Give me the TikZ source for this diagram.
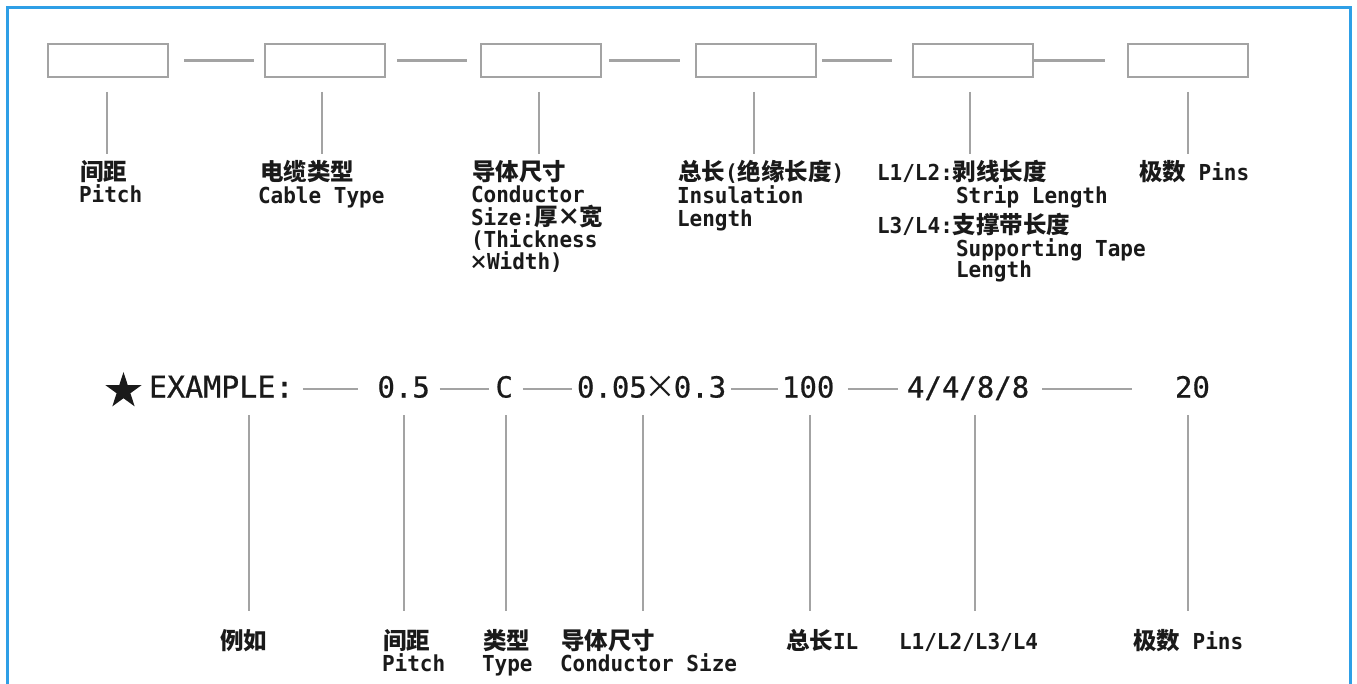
\documentclass[tikz,border=0pt]{standalone}
\usepackage{fontspec}
\usetikzlibrary{shapes.geometric}
\newfontfamily\monofont[FakeStretch=0.955]{DejaVu Sans Mono}
\newfontfamily\exmono[FakeBold=0.6]{DejaVu Sans Mono}
\newfontfamily\zhfont{Noto Sans CJK SC}
\definecolor{frameblue}{HTML}{2E9FE6}
\definecolor{linegray}{HTML}{A3A3A3}
\definecolor{ink}{HTML}{1A1A1A}
\newcommand\lblfont{\monofont\bfseries\fontsize{22}{23}\selectfont}
\newcommand\zh[1]{{\zhfont\bfseries\fontsize{23.5}{23}\selectfont #1}}
\newcommand\exfont{\exmono\fontsize{29}{30}\selectfont}
\newcommand\exbig{\exmono\fontsize{30}{30}\selectfont}
\begin{document}
\begin{tikzpicture}[x=1pt,y=-1pt,
  lbl/.style={anchor=base west,inner sep=0pt,outer sep=0pt,text=ink,font=\lblfont},
  exnum/.style={anchor=base west,inner sep=0pt,outer sep=0pt,text=ink,font=\exfont},
  codebox/.style={draw=linegray,line width=2pt,minimum width=120pt,minimum height=33pt,inner sep=0pt,fill=white},
  link/.style={draw=linegray,line width=2.6pt},
  lead/.style={draw=linegray,line width=1.6pt},
  exlink/.style={draw=linegray,line width=2pt}]
\fill[white] (0,0) rectangle (1357,684);
\useasboundingbox (0,0) rectangle (1357,684);
\begin{scope}
\clip (0,0) rectangle (1357,684);
\draw[frameblue,line width=3pt] (7,8) rectangle (1350,720);
\end{scope}

% top code boxes
\node[codebox] (b1) at (108,60.5) {};
\node[codebox] (b2) at (325,60.5) {};
\node[codebox] (b3) at (541,60.5) {};
\node[codebox] (b4) at (756,60.5) {};
\node[codebox] (b5) at (972.5,60.5) {};
\node[codebox] (b6) at (1188,60.5) {};
\draw[link,shorten <=15pt,shorten >=10pt] (b1.east) -- (b2.west);
\draw[link,shorten <=11pt,shorten >=13pt] (b2.east) -- (b3.west);
\draw[link,shorten <=7pt,shorten >=15pt] (b3.east) -- (b4.west);
\draw[link,shorten <=5pt,shorten >=20pt] (b4.east) -- (b5.west);
\draw[link,shorten >=22pt] (b5.east) -- (b6.west);

% top leader lines
\foreach \i/\x in {1/107,2/322,3/539,4/754,5/970,6/1188}{
  \coordinate (ta\i) at (\x,92);
  \coordinate (tb\i) at (\x,154);
  \draw[lead] (ta\i) -- (tb\i);
}

% top labels
\node[lbl] (t1a) at (80,181) {\zh{间距}};
\node[lbl] (t1b) at (79,203) {Pitch};
\node[lbl] (t2a) at (260,181) {\zh{电缆类型}};
\node[lbl] (t2b) at (258,203.5) {Cable Type};
\node[lbl] (t3a) at (472,181) {\zh{导体尺寸}};
\node[lbl] (t3b) at (471,203) {Conductor};
\node[lbl] (t3c) at (471,226) {Size:\zh{厚}\makebox[22pt]{\zh{×}}\zh{宽}};
\node[lbl] (t3d) at (471,248) {(Thickness};
\node[lbl] (t3e) at (471,270) {\makebox[16pt]{\zhfont\bfseries\fontsize{19}{23}\selectfont ×}Width)};
\node[lbl] (t4a) at (678,181) {\zh{总长}(\zh{绝缘长度})};
\node[lbl] (t4b) at (677,204) {Insulation};
\node[lbl] (t4c) at (677,226.5) {Length};
\node[lbl] (t5a) at (877,181) {L1/L2:\zh{剥线长度}};
\node[lbl] (t5b) at (956,204) {Strip Length};
\node[lbl] (t5c) at (877,233.5) {L3/L4:\zh{支撑带长度}};
\node[lbl] (t5d) at (956,257) {Supporting Tape};
\node[lbl] (t5e) at (956,278) {Length};
\node[lbl] (t6a) at (1139,181) {\zh{极数} Pins};

% example row
\node[star,star points=5,star point ratio=2.618,fill=ink,draw=none,minimum size=38pt,inner sep=0pt] (star) at (123.5,391) {};
\node[exnum,font=\exbig] (ex0) at (149,397.5) {EXAMPLE:};
\node[exnum] (e1) at (377.5,397.5) {0.5};
\node[exnum] (e2) at (495.5,397.5) {C};
\node[exnum] (e3) at (577,397.5) {0.05\makebox[27pt]{\raisebox{-1pt}{\zhfont\fontsize{32}{30}\selectfont ×}}0.3};
\node[exnum] (e4) at (782,397.5) {100};
\node[exnum] (e5) at (907,397.5) {4/4/8/8};
\node[exnum] (e6) at (1175,397.5) {20};
\draw[exlink,shorten <=9.5pt,shorten >=19.5pt] (ex0.east |- 0,389) -- (e1.west |- 0,389);
\draw[exlink,shorten <=10pt,shorten >=6.5pt] (e1.east |- 0,389) -- (e2.west |- 0,389);
\draw[exlink,shorten <=10pt,shorten >=5pt] (e2.east |- 0,389) -- (e3.west |- 0,389);
\draw[exlink,shorten <=5pt,shorten >=4pt] (e3.east |- 0,389) -- (e4.west |- 0,389);
\draw[exlink,shorten <=13.6pt,shorten >=9pt] (e4.east |- 0,389) -- (e5.west |- 0,389);
\draw[exlink,shorten <=13pt,shorten >=43pt] (e5.east |- 0,389) -- (e6.west |- 0,389);

% example leader lines
\foreach \i/\x in {1/249,2/404,3/506,4/643,5/810,6/975,7/1188}{
  \coordinate (ua\i) at (\x,415);
  \coordinate (ub\i) at (\x,611);
  \draw[lead] (ua\i) -- (ub\i);
}

% bottom labels
\node[lbl] (u1) at (220,649) {\zh{例如}};
\node[lbl] (u2a) at (383,649) {\zh{间距}};
\node[lbl] (u2b) at (382,671) {Pitch};
\node[lbl] (u3a) at (483,649) {\zh{类型}};
\node[lbl] (u3b) at (482,671) {Type};
\node[lbl] (u4a) at (561,649) {\zh{导体尺寸}};
\node[lbl] (u4b) at (560,671) {Conductor Size};
\node[lbl] (u5) at (786,649) {\zh{总长}IL};
\node[lbl] (u6) at (899,649) {L1/L2/L3/L4};
\node[lbl] (u7) at (1133,649) {\zh{极数} Pins};
\end{tikzpicture}
\end{document}
